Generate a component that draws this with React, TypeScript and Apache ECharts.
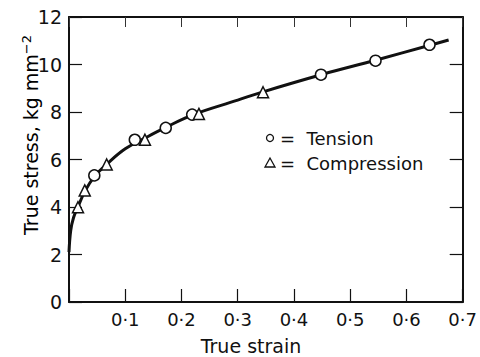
import React, { useEffect, useRef } from "react";
import * as echarts from "echarts";

const curveStrain = [0, 0.003, 0.008, 0.016, 0.028, 0.045, 0.067, 0.1, 0.135, 0.172, 0.22, 0.3, 0.345, 0.45, 0.545, 0.64, 0.675];
const curveStress = [2.1, 3.0, 3.55, 4.0, 4.65, 5.28, 5.8, 6.45, 6.9, 7.35, 7.88, 8.5, 8.85, 9.58, 10.18, 10.8, 11.03];

const tensionStrain = [0.045, 0.117, 0.172, 0.219, 0.448, 0.545, 0.641];
const tensionStress = [5.33, 6.83, 7.33, 7.89, 9.57, 10.16, 10.83];

const compStrain = [0.016, 0.028, 0.067, 0.135, 0.231, 0.345];
const compStress = [3.99, 4.7, 5.79, 6.83, 7.92, 8.83];

const FONT = "DejaVu Sans";
const INK = "#111";

export default function App() {
  const ref = useRef<HTMLDivElement>(null);
  useEffect(() => {
    document.body.style.margin = "0";
    const chart = echarts.init(ref.current!, undefined, { renderer: "svg" });
    const zip = (a: number[], b: number[]) => a.map((v, i) => [v, b[i]]);
    const axisCommon = {
      type: "value" as const,
      axisLine: { show: true, onZero: false, lineStyle: { color: INK, width: 2 } },
      splitLine: { show: false },
      axisTick: { show: true, inside: true, length: 13, lineStyle: { color: INK, width: 1.2 } },
    };
    chart.setOption({
      animation: false,
      backgroundColor: "#fff",
      grid: { left: 69, right: 15, top: 17, bottom: 55 },
      xAxis: [
        {
          ...axisCommon,
          min: 0,
          max: 0.7,
          interval: 0.1,
          position: "bottom",
          axisLabel: {
            color: INK,
            fontFamily: FONT,
            fontSize: 18,
            margin: 8,
            formatter: (v: number) => (v === 0 ? "" : v.toFixed(1).replace(".", "·")),
          },
        },
        {
          ...axisCommon,
          min: 0,
          max: 0.7,
          interval: 0.1,
          position: "top",
          axisTick: { show: true, inside: true, length: 10, lineStyle: { color: "#333", width: 1 } },
          axisLabel: { show: false },
        },
      ],
      yAxis: [
        {
          ...axisCommon,
          min: 0,
          max: 12,
          interval: 2,
          position: "left",
          axisLabel: { color: INK, fontFamily: FONT, fontSize: 19, margin: 7 },
        },
        {
          ...axisCommon,
          min: 0,
          max: 12,
          interval: 2,
          position: "right",
          axisLabel: { show: false },
        },
      ],
      series: [
        {
          type: "line",
          data: zip(curveStrain, curveStress),
          smooth: 0.4,
          showSymbol: false,
          lineStyle: { color: INK, width: 3 },
          z: 2,
        },
        {
          type: "scatter",
          name: "Tension",
          data: zip(tensionStrain, tensionStress),
          symbol: "circle",
          symbolSize: 11,
          itemStyle: { color: "#fff", borderColor: INK, borderWidth: 1.5, opacity: 1 },
          z: 3,
        },
        {
          type: "scatter",
          name: "Compression",
          data: zip(compStrain, compStress),
          symbol: "triangle",
          symbolSize: 11,
          itemStyle: { color: "#fff", borderColor: INK, borderWidth: 1.5, opacity: 1 },
          z: 3,
        },
      ],
      graphic: [
        {
          type: "circle",
          shape: { cx: 270, cy: 138, r: 3.5 },
          style: { fill: "#fff", stroke: INK, lineWidth: 1.3 },
        },
        {
          type: "polygon",
          shape: { points: [[270, 158], [265, 167], [275, 167]] },
          style: { fill: "#fff", stroke: INK, lineWidth: 1.3 },
        },
        {
          type: "text",
          x: 280,
          y: 138,
          style: { text: "=  Tension", fill: INK, font: `18px '${FONT}'`, textVerticalAlign: "middle" },
        },
        {
          type: "text",
          x: 280,
          y: 163,
          style: { text: "=  Compression", fill: INK, font: `18px '${FONT}'`, textVerticalAlign: "middle" },
        },
        {
          type: "text",
          x: 251,
          y: 346,
          style: { text: "True strain", fill: INK, font: `19px '${FONT}'`, textAlign: "center", textVerticalAlign: "middle" },
        },
        {
          type: "text",
          x: 31,
          y: 135,
          rotation: Math.PI / 2,
          style: {
            text: "{a|True stress, kg mm}{b|−2}",
            textAlign: "center",
            textVerticalAlign: "middle",
            rich: {
              a: { fontFamily: FONT, fontSize: 19, color: INK },
              b: { fontFamily: FONT, fontSize: 13, color: INK, verticalAlign: "top", padding: [0, 0, 10, 0] },
            },
          },
        },
      ],
    });
    return () => chart.dispose();
  }, []);
  return <div ref={ref} style={{ width: 480, height: 357 }} />;
}
